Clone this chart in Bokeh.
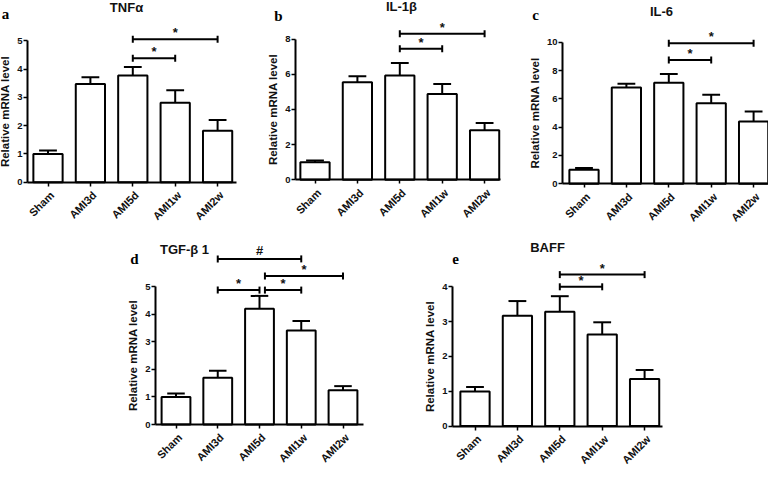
import math
from bokeh.plotting import figure
from bokeh.models import Range1d, FixedTicker, Label, LinearAxis
from bokeh.embed import file_html
from bokeh.resources import INLINE
from bokeh.core.properties import value

# ---------------- data ----------------
groups = ["Sham", "AMI3d", "AMI5d", "AMI1w", "AMI2w"]

tnfa_mean = [1.0, 3.47, 3.77, 2.81, 1.82]
tnfa_err = [0.12, 0.24, 0.30, 0.44, 0.38]
tnfa_sig = [(2, 4, 5.05, "*"), (2, 3, 4.38, "*")]

il1b_mean = [1.0, 5.54, 5.92, 4.88, 2.82]
il1b_err = [0.10, 0.35, 0.72, 0.56, 0.41]
il1b_sig = [(2, 4, 8.3, "*"), (2, 3, 7.45, "*")]

il6_mean = [1.0, 6.8, 7.13, 5.69, 4.4]
il6_err = [0.12, 0.27, 0.62, 0.6, 0.7]
il6_sig = [(2, 4, 9.93, "*"), (2, 3, 8.75, "*")]

tgfb1_mean = [1.0, 1.69, 4.19, 3.41, 1.24]
tgfb1_err = [0.12, 0.26, 0.47, 0.34, 0.15]
tgfb1_sig = [(1, 3, 6.0, "#"), (2.13, 4, 5.38, "*"), (1, 2, 4.87, "*"), (2.13, 3, 4.87, "*")]

baff_mean = [0.99, 3.17, 3.28, 2.63, 1.35]
baff_err = [0.13, 0.42, 0.45, 0.35, 0.26]
baff_sig = [(2, 4, 4.35, "*"), (2, 3, 4.0, "*")]

SANS = "Liberation Sans"
SERIF = "Liberation Serif"
TXT = "#111111"
W, H = 768, 468
LABEL_SHIFT = 4  # px, category labels sit a little right of their tick

p = figure(width=W, height=H, x_range=Range1d(0, W), y_range=Range1d(0, H),
           x_axis_location=None, y_axis_location=None, min_border=0,
           output_backend="svg", toolbar_location=None, title=None)
p.xgrid.visible = False
p.ygrid.visible = False
p.outline_line_color = None
p.background_fill_color = "white"
p.border_fill_color = "white"


def panel(name, title, letter, means, errs, sig, ymax, ystep, g):
    # g: pixel geometry of the panel inside the canvas (origin top-left)
    c0, PX, y0, PY = g["c0"], g["PX"], g["y0"], g["PY"]
    xr0, xr1 = (0 - c0) / PX, (W - c0) / PX
    p.extra_x_ranges[name] = Range1d(xr0, xr1)
    p.extra_x_ranges[name + "_lab"] = Range1d(xr0 - LABEL_SHIFT / PX, xr1 - LABEL_SHIFT / PX)
    p.extra_y_ranges[name] = Range1d((y0 - H) / PY, y0 / PY)
    kw = dict(x_range_name=name, y_range_name=name)

    xs = list(range(len(means)))
    tops = [m + e for m, e in zip(means, errs)]

    # error bars (upper only)
    p.segment(x0=xs, y0=means, x1=xs, y1=tops, line_color="black", line_width=2, **kw)
    p.segment(x0=[x - 0.21 for x in xs], y0=tops, x1=[x + 0.21 for x in xs], y1=tops,
              line_color="black", line_width=2, **kw)
    # bars
    p.vbar(x=xs, top=means, bottom=0, width=0.69, fill_color="white",
           line_color="black", line_width=2, **kw)

    # significance brackets
    tick = 3.5 / PY
    for (a, b, h, s) in sig:
        p.segment(x0=[a, a, b], y0=[h, h - tick, h - tick], x1=[b, a, b], y1=[h, h + tick, h + tick],
                  line_color="black", line_width=2, **kw)
        off = 6.5 if s == "*" else 8.5
        p.text(x=[(a + b) / 2], y=[h + off / PY], text=[s], text_align="center",
               text_baseline="middle", text_font=value(SANS), text_font_style="bold",
               text_font_size="13px", text_color=TXT, **kw)

    ax_x = (g["axis_x"] - c0) / PX
    ax_end = (g["axis_end"] - c0) / PX

    # x axis: line and ticks
    xa = LinearAxis(fixed_location=0, bounds=(ax_x, ax_end), **kw)
    xa.ticker = FixedTicker(ticks=xs)
    xa.major_label_overrides = {i: "" for i in xs}
    xa.axis_line_width = 2
    xa.major_tick_out = 4
    xa.major_tick_in = 0
    xa.major_tick_line_width = 1.5
    xa.minor_tick_out = 0
    xa.minor_tick_in = 0
    p.add_layout(xa, "below")

    # x axis: rotated category labels
    xl = LinearAxis(fixed_location=0, x_range_name=name + "_lab", y_range_name=name)
    xl.ticker = FixedTicker(ticks=xs)
    xl.major_label_overrides = {i: gname for i, gname in enumerate(groups)}
    xl.major_label_orientation = math.pi / 4
    xl.axis_line_color = None
    xl.major_tick_line_color = None
    xl.minor_tick_line_color = None
    xl.major_tick_out = 4
    xl.major_tick_in = 0
    xl.major_label_standoff = 7
    xl.major_label_text_font = SANS
    xl.major_label_text_font_style = "bold"
    xl.major_label_text_font_size = "11px"
    xl.major_label_text_color = TXT
    p.add_layout(xl, "below")

    ya = LinearAxis(fixed_location=ax_x, bounds=(0, ymax), **kw)
    ya.ticker = FixedTicker(ticks=list(range(0, ymax + 1, ystep)))
    ya.axis_line_width = 2
    ya.major_tick_out = 4
    ya.major_tick_in = 0
    ya.major_tick_line_width = 1.5
    ya.minor_tick_out = 0
    ya.minor_tick_in = 0
    ya.major_label_standoff = 1
    ya.major_label_text_font = SANS
    ya.major_label_text_font_style = "bold"
    ya.major_label_text_font_size = "9.5px"
    ya.major_label_text_color = TXT
    ya.axis_label = "Relative mRNA level"
    ya.axis_label_standoff = 3
    ya.axis_label_text_font = SANS
    ya.axis_label_text_font_style = "bold"
    ya.axis_label_text_font_size = "11.5px"
    ya.axis_label_text_color = TXT
    p.add_layout(ya, "left")

    tx, ty = g["title_at"]
    p.add_layout(Label(x=tx, y=H - ty, text=title, text_font=SANS, text_font_style="bold",
                       text_font_size="13px", text_align="center", text_baseline="middle",
                       text_color=TXT))
    lx, ly = g["letter_at"]
    p.add_layout(Label(x=lx, y=H - ly, text=letter, text_font=SERIF, text_font_style="bold",
                       text_font_size="15px", text_align="center", text_baseline="middle",
                       text_color="black"))


# pixel geometry (canvas coordinates, origin top-left)
geo_a = dict(axis_x=27, axis_end=236, c0=47.5, PX=42.4, y0=181.7, PY=28.3,
             title_at=(126, 7), letter_at=(5, 13))
geo_b = dict(axis_x=295, axis_end=500, c0=314.5, PX=42.4, y0=179.3, PY=17.6,
             title_at=(401, 6), letter_at=(278, 15))
geo_c = dict(axis_x=562, axis_end=767, c0=583.5, PX=42.4, y0=183.3, PY=14.16,
             title_at=(661, 11), letter_at=(535, 14))
geo_d = dict(axis_x=155, axis_end=363, c0=175.5, PX=41.75, y0=424.0, PY=27.6,
             title_at=(184, 249), letter_at=(134, 258))
geo_e = dict(axis_x=452, axis_end=662, c0=474.5, PX=42.4, y0=425.5, PY=34.8,
             title_at=(547, 247), letter_at=(455, 258))

panel("a", "TNFα", "a", tnfa_mean, tnfa_err, tnfa_sig, 5, 1, geo_a)
panel("b", "IL-1β", "b", il1b_mean, il1b_err, il1b_sig, 8, 2, geo_b)
panel("c", "IL-6", "c", il6_mean, il6_err, il6_sig, 10, 2, geo_c)
panel("d", "TGF-β 1", "d", tgfb1_mean, tgfb1_err, tgfb1_sig, 5, 1, geo_d)
panel("e", "BAFF", "e", baff_mean, baff_err, baff_sig, 4, 1, geo_e)

open("out.html", "w").write(file_html(p, INLINE))
